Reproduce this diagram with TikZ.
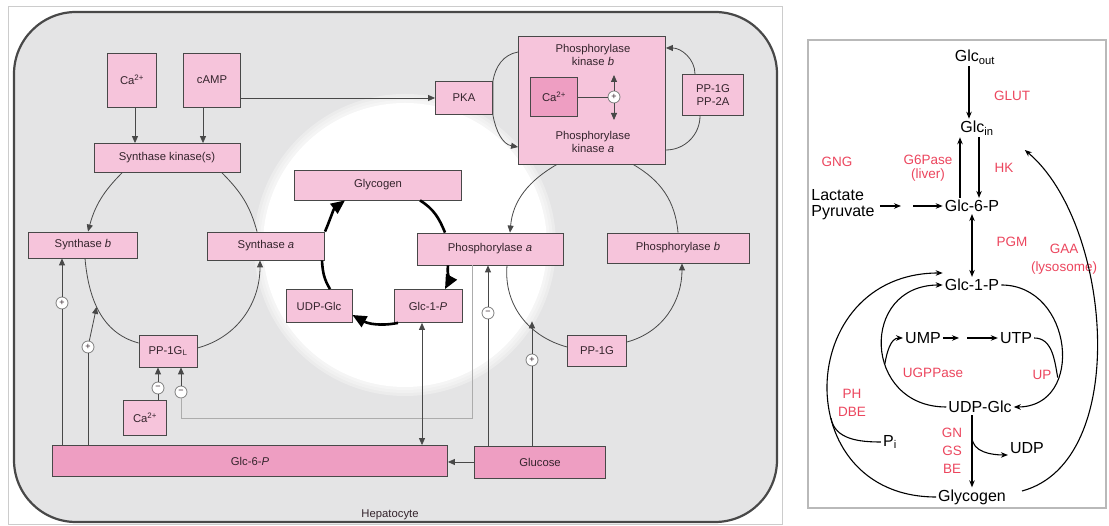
\documentclass[tikz,border=0pt]{standalone}
\usepackage{fontspec}
\setmainfont{Liberation Sans}
\usepackage{xcolor}
\usetikzlibrary{arrows.meta,positioning}

\definecolor{cellgray}{RGB}{228,228,229}
\definecolor{rimgray}{RGB}{72,72,72}
\definecolor{boxpink}{RGB}{246,196,219}
\definecolor{deeppink}{RGB}{238,158,194}
\definecolor{inkbox}{RGB}{52,36,44}
\definecolor{enzred}{RGB}{236,70,94}

\begin{document}
\begin{tikzpicture}[
  x=1pt, y=1pt,
  >={Triangle[length=7pt,width=6pt]},
  bx/.style={draw=rimgray, fill=boxpink, line width=0.8pt, inner sep=1pt,
             align=center, text=inkbox, font=\fontsize{11.3}{12.5}\selectfont},
  dk/.style={bx, fill=deeppink},
  txt/.style={align=center, text=inkbox, inner sep=1pt,
              font=\fontsize{11.3}{13.5}\selectfont},
  sgn/.style={circle, draw=gray, fill=white, line width=0.8pt, inner sep=0pt,
              minimum size=12pt, text=inkbox, font=\fontsize{9}{9}\selectfont},
  ln/.style={draw=rimgray, line width=0.8pt},
  arr/.style={ln, ->},
  ctl/.style={draw=gray!65, line width=0.7pt},
  cyc/.style={line width=2.6pt},
  cyca/.style={cyc, -{Triangle[length=14pt,width=12pt]}},
  mol/.style={inner sep=2pt, font=\fontsize{16}{16}\selectfont},
  enz/.style={text=enzred, align=center, inner sep=1pt,
              font=\fontsize{13.5}{18}\selectfont},
  rln/.style={line width=1.1pt},
  rarr/.style={rln, -{Stealth[length=7pt,width=5.5pt]}},
  rdbl/.style={rln, {Stealth[length=7pt,width=5.5pt]}-{Stealth[length=7pt,width=5.5pt]}},
]
\useasboundingbox (0,0) rectangle (1109,526);
\fill[white] (0,0) rectangle (1109,526);

% ---- hepatocyte panel ----
\draw[gray!40, line width=0.8pt] (8,2) rectangle (782,520);
\draw[draw=rimgray, fill=cellgray, line width=2.2pt, rounded corners=62pt]
  (14,4) rectangle (777,514);
\foreach \r in {151,148,145}
  \fill[white, opacity=0.3] (405,281) circle (\r);
\fill[white] (405,281) circle (142);

% ---- signals ----
\node[bx, minimum width=49pt, minimum height=54pt] (caT)  at (132,446) {Ca\textsuperscript{2+}};
\node[bx, minimum width=57pt, minimum height=54pt] (camp) at (212,446) {cAMP};
\node[bx, minimum width=57pt, minimum height=33pt] (pka)  at (464,428) {PKA};

% ---- synthase side ----
\node[bx, minimum width=146pt, minimum height=29pt] (sk)    at (167,368) {Synthase kinase(s)};
\node[bx, minimum width=109pt, minimum height=26pt] (synB)  at (83,281)  {Synthase \textit{b}};
\node[bx, minimum width=117pt, minimum height=28pt] (synA)  at (266,280) {Synthase \textit{a}};
\node[bx, minimum width=58pt,  minimum height=32pt] (pp1gl) at (168,175) {PP-1G\textsubscript{L}};
\node[bx, minimum width=43pt,  minimum height=35pt] (caB)   at (145,108) {Ca\textsuperscript{2+}};

% ---- glycogen cycle ----
\node[bx, minimum width=167pt, minimum height=30pt] (glycogen) at (378,341) {Glycogen};
\node[bx, minimum width=66pt,  minimum height=33pt] (udpglc)   at (319,220) {UDP-Glc};
\node[bx, minimum width=68pt,  minimum height=33pt] (glc1p)    at (428,220) {Glc-1-\textit{P}};

% ---- phosphorylase side ----
\node[bx, minimum width=147pt, minimum height=128pt] (phk) at (592,426) {};
\node[txt] (phkb) at (593,471) {Phosphorylase\\kinase \textit{b}};
\node[txt] (phka) at (593,384) {Phosphorylase\\kinase \textit{a}};
\node[dk, minimum width=47pt, minimum height=39pt] (caK) at (554,429) {Ca\textsuperscript{2+}};
\node[sgn] (plK) at (614,429) {+};
\coordinate (kup) at (614,451);
\coordinate (kdn) at (614,406);
\node[bx, minimum width=61pt,  minimum height=41pt] (pp)    at (713,431) {PP-1G\\PP-2A};
\node[bx, minimum width=146pt, minimum height=32pt] (phosA) at (490,277) {Phosphorylase \textit{a}};
\node[bx, minimum width=142pt, minimum height=30pt] (phosB) at (678,278) {Phosphorylase \textit{b}};
\node[bx, minimum width=59pt,  minimum height=31pt] (pp1g)  at (597,175) {PP-1G};

% ---- bottom ----
\node[dk, minimum width=395pt, minimum height=31pt] (glc6p) at (250,65) {Glc-6-\textit{P}};
\node[dk, minimum width=131pt, minimum height=32pt] (glu)   at (540,64) {Glucose};
\node[txt] (hep) at (390,11) {Hepatocyte};

% ---- effector signs ----
\node[sgn] (plSB)  at (62,223)  {+};
\node[sgn] (plPP)  at (88,179)  {+};
\node[sgn] (minCa) at (158,138) {−};
\node[sgn] (minPh) at (181,134) {−};
\node[sgn] (minGl) at (488,213) {−};
\node[sgn] (plGl)  at (532,166) {+};

% ---- synthase interconversion ----
\draw[arr] ([xshift=-45pt]sk.south) to[out=225,in=75] ([xshift=5pt]synB.north);
\draw[ln] ([xshift=55pt]sk.south) to[out=-45,in=105] ([xshift=-9pt]synA.north);
\draw[ln] ([xshift=2pt]synB.south) to[out=-85,in=165]
  node[coordinate,pos=0.45] (sact) {} ([yshift=8pt]pp1gl.west);
\draw[arr] ([yshift=3pt]pp1gl.east) to[out=15,in=-90] ([xshift=-6pt]synA.south);

% ---- phosphorylase interconversion ----
\draw[arr] ([xshift=-35pt]phk.south) to[out=210,in=85] ([xshift=20pt]phosA.north);
\draw[ln] ([xshift=41pt]phk.south) to[out=-30,in=95] (phosB.north);
\draw[ln] ([xshift=17pt]phosA.south) to[out=-95,in=165]
  node[coordinate,pos=0.55] (gact) {} ([yshift=4pt]pp1g.west);
\draw[arr] ([yshift=9pt]pp1g.east) to[out=15,in=-90] ([xshift=4pt]phosB.south);

% ---- kinase activation ----
\draw[arr] ([yshift=48pt]phk.west) to[out=190,in=80] (pka.north east)
  -- (pka.south east) to[out=-80,in=170] ([yshift=-47pt]phk.west);
\draw[ln] ([yshift=-50pt]phk.east) to[out=0,in=-90] ([xshift=-13pt]pp.south);
\draw[arr] ([xshift=-18pt]pp.north) to[out=90,in=0] ([yshift=52pt]phk.east);
\draw[ln] (caK.east) -- (plK);
\draw[arr] (plK) -- (kup);
\draw[arr] (plK) -- (kdn);

% ---- signal arrows ----
\draw[arr] ([xshift=3pt]caT.south) -- ([xshift=3pt]caT.south |- sk.north);
\draw[arr] ([xshift=-9pt]camp.south) -- ([xshift=-9pt]camp.south |- sk.north);
\draw[arr] (camp.east |- pka.west) -- (pka.west);

% ---- effectors ----
\draw[ln] (glc6p.north -| plSB) -- (plSB);
\draw[arr] (plSB) -- (plSB |- synB.south);
\draw[ln] (glc6p.north -| plPP) -- (plPP);
\draw[arr] (plPP) -- (sact);
\draw[ln] (caB.north -| minCa) -- (minCa);
\draw[arr] (minCa) -- (minCa |- pp1gl.south);
\draw[ctl] ([xshift=-18pt]phosA.south) |- ([yshift=-20pt]minPh.south) -- (minPh);
\draw[arr] (minPh) -- (minPh |- pp1gl.south);
\draw[ln] (glu.north -| minGl) -- (minGl);
\draw[arr] (minGl) -- (minGl |- phosA.south);
\draw[ln] (glu.north -| plGl) -- (plGl);
\draw[arr] (plGl) -- (plGl |- gact);
\draw[arr] (glu.west) -- (glu.west -| glc6p.east);
\draw[ln, <->] ([xshift=-6pt]glc1p.south) -- ([xshift=-6pt]glc1p.south |- glc6p.north);

% ---- glycogen turnover ----
\draw[cyc] ([xshift=11pt]udpglc.north) to[out=121,in=-87] ([xshift=56pt]synA.south);
\draw[cyca] ([xshift=59pt]synA.north) to[out=67,in=217] ([xshift=-33pt]glycogen.south);
\draw[cyc] ([xshift=42pt]glycogen.south) to[out=-32,in=112] ([xshift=-45pt]phosA.north);
\draw[cyca] ([xshift=-42pt]phosA.south) to[out=-97,in=62] ([xshift=17pt]glc1p.north);
\draw[cyca] ([xshift=-30pt]glc1p.south) to[out=191,in=-29] ([yshift=-9pt]udpglc.east);

% ---- pathway panel ----
\draw[gray!55, line width=2pt] (808,18) rectangle (1106,486);
\node[mol] (gout) at (975,469) {Glc\textsubscript{out}};
\node[mol] (gin)  at (977,398) {Glc\textsubscript{in}};
\node[mol] (g6)   at (972,320) {Glc-6-P};
\node[mol] (g1)   at (972,241) {Glc-1-P};
\node[mol] (ump)  at (923,188) {UMP};
\node[mol] (utp)  at (1016,188) {UTP};
\node[mol] (udpg) at (980,119) {UDP-Glc};
\node[mol] (pi)   at (890,84) {P\textsubscript{i}};
\node[mol] (udp)  at (1027,78) {UDP};
\node[mol] (gly)  at (972,29) {Glycogen};
\node[mol, align=left] (lac) at (843,321) {Lactate\\Pyruvate};
\coordinate (lgap) at (907,320);
\coordinate (ugap) at (962,188);

\node[enz] (glut)  at (1012,430) {GLUT};
\node[enz] (gng)   at (837,364) {GNG};
\node[enz] (g6ase) at (928,358) {G6Pase\\[-4pt](liver)};
\node[enz] (hk)    at (1004,358) {HK};
\node[enz] (pgm)   at (1012,284) {PGM};
\node[enz] (gaa)   at (1064,267) {GAA\\(lysosome)};
\node[enz] (ugp)   at (933,153) {UGPPase};
\node[enz] (up)    at (1042,151) {UP};
\node[enz] (phdbe) at (852,123) {PH\\DBE};
\node[enz] (gnbe)  at (952,75) {GN\\GS\\BE};

% ---- pathway arrows ----
\draw[rarr] ([xshift=-6pt]gout.south) -- ([xshift=-6pt]gout.south |- gin.north);
\draw[rarr] ([xshift=-12pt]g6.north) -- ([xshift=-12pt]g6.north |- gin.south);
\draw[rarr] ([xshift=7pt]g6.north |- gin.south) -- ([xshift=7pt]g6.north);
\draw[rarr] ([xshift=3pt]lac.east |- g6.west) -- ([xshift=-6pt]lgap);
\draw[rarr] ([xshift=6pt]lgap) -- (g6.west);
\draw[rdbl] (g6.south) -- (g1.north);
\draw[rarr] (ump.east) -- ([xshift=-3pt]ugap);
\draw[rarr] ([xshift=5pt]ugap) -- (utp.west);

\draw[rarr] (g1.east) to[out=0,in=0,looseness=1.5]
  node[coordinate,pos=0.68] (upj) {} (udpg.east);
\draw[rln] (utp.east) to[out=0,in=100] (upj);
\draw[rarr] (udpg.west) to[out=180,in=180,looseness=1.75]
  node[coordinate,pos=0.4] (umpj) {} (g1.west);
\draw[rarr] (umpj) to[out=80,in=180] (ump.west);
\draw[rarr] (gly.west) to[out=180,in=180,looseness=1.7]
  node[coordinate,pos=0.4] (pij) {} ([yshift=12pt]g1.west);
\draw[rln] (pi.west) to[out=180,in=-80] (pij);
\draw[rarr] (udpg.south -| gly) -- node[coordinate,pos=0.3] (udpj) {} (gly.north);
\draw[rarr] (udpj) to[out=-90,in=180] ([yshift=-7pt]udp.west);
\draw[rarr] ([xshift=14pt,yshift=6pt]gly.east) to[out=15,in=-40,looseness=0.85]
  ([xshift=29pt,yshift=-22pt]gin.east);

\end{tikzpicture}
\end{document}
